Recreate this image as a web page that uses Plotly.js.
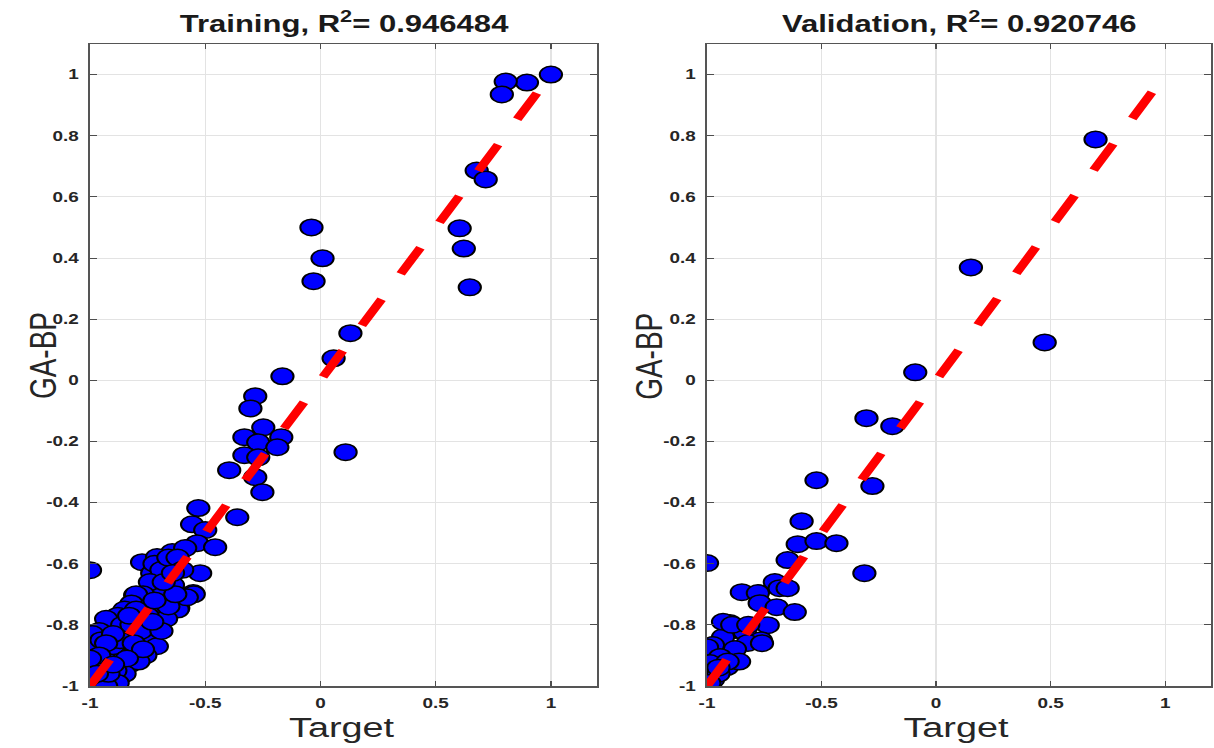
<!DOCTYPE html>
<html>
<head>
<meta charset="utf-8">
<script src="https://cdn.plot.ly/plotly-3.0.1.min.js"></script>
<style>
html,body{margin:0;padding:0;background:#fff;overflow:hidden;}
#wrap{width:1214px;height:748px;overflow:hidden;}
/* The reference figure is stretched horizontally (elliptical markers, wide glyphs) */
#chart{width:899px;height:748px;transform:scaleX(1.3504);transform-origin:0 0;}
</style>
</head>
<body>
<div id="wrap"><div id="chart"></div></div>
<script>
// ---- Data ----
const trainTarget = [
  1.00, 0.896, 0.804, 0.787, 0.678, 0.717, 0.604, 0.622, 0.648,
  -0.039, 0.009, -0.030, 0.130, 0.057, 0.109, -0.165,
  -0.283, -0.304, -0.248, -0.330, -0.270, -0.170, -0.187, -0.330, -0.270,
  -0.396, -0.283, -0.252, -0.530, -0.361, -0.557, -0.500, -0.535, -0.457,
  -0.643, -0.774, -0.709, -0.687, -0.587, -1.000, -0.522, -0.730,
  -0.643, -0.552, -0.617, -0.804, -0.848, -0.926,
  -0.72, -0.69, -0.66, -0.64, -0.62, -0.60, -0.55, -0.62, -0.58, -0.66,
  -0.70, -0.74, -0.77, -0.80, -0.82, -0.85, -0.78, -0.74, -0.70, -0.67,
  -0.72, -0.76, -0.80, -0.84, -0.88, -0.90, -0.93, -0.86, -0.82, -0.78,
  -0.74, -0.71, -0.76, -0.80, -0.84, -0.88, -0.92, -0.96, -0.98, -0.95,
  -0.91, -0.87, -0.83, -0.79, -0.85, -0.89, -0.93, -0.97, -0.99, -1.00,
  -0.98, -0.95, -0.91, -0.88, -1.00, -0.99, -0.97, -0.93, -1.00, -0.96,
  -0.94, -0.90, -0.86, -0.82, -0.78, -0.69, -0.66, -0.63, -0.68, -0.64,
  -0.75, -0.72, -0.80, -0.83, -0.87, -0.81, -0.77, -0.73, -0.84, -0.92,
  -0.98, -1.00, -0.99, -0.95, -0.90, -0.93, -0.96, -1.00, -0.97, -0.90
];
const trainOutput = [
  1.00, 0.974, 0.977, 0.935, 0.686, 0.657, 0.497, 0.431, 0.304,
  0.500, 0.399, 0.324, 0.154, 0.072, -0.235, 0.013,
  -0.052, -0.092, -0.154, -0.186, -0.203, -0.186, -0.219, -0.245, -0.252,
  -0.294, -0.317, -0.366, -0.418, -0.448, -0.471, -0.490, -0.533, -0.546,
  -0.562, -0.595, -0.578, -0.611, -0.549, -0.621, -0.631, -0.631,
  -0.670, -0.696, -0.745, -0.703, -0.752, -0.784,
  -0.60, -0.62, -0.58, -0.67, -0.58, -0.62, -0.70, -0.75, -0.71, -0.72,
  -0.69, -0.66, -0.70, -0.70, -0.73, -0.75, -0.76, -0.74, -0.76, -0.78,
  -0.81, -0.80, -0.78, -0.79, -0.77, -0.80, -0.78, -0.83, -0.84, -0.86,
  -0.84, -0.87, -0.90, -0.89, -0.88, -0.86, -0.84, -0.82, -0.85, -0.88,
  -0.90, -0.92, -0.93, -0.92, -0.96, -0.95, -0.94, -0.92, -0.90, -0.94,
  -0.97, -0.98, -0.98, -0.99, -1.00, -0.99, -1.00, -1.00, -0.97, -0.95,
  -0.91, -0.87, -0.80, -0.80, -0.82, -0.82, -0.74, -0.70, -0.66, -0.63,
  -0.77, -0.72, -0.75, -0.77, -0.85, -0.86, -0.88, -0.79, -0.91, -0.96,
  -0.88, -0.86, -0.83, -0.85, -0.83, -0.86, -0.90, -0.91, -0.96, -0.93
];
const valTarget = [
  0.696, 0.152, 0.474, -0.091, -0.304, -0.191, -0.278, -0.522,
  -0.587, -0.604, -0.522, -0.435, -0.648, -1.000, -0.313,
  -0.704, -0.683, -0.648, -0.848, -0.778, -0.770, -0.696, -0.617,
  -0.735, -0.900, -0.878, -0.835, -0.765, -0.822, -0.930, -0.974,
  -1.000, -0.878, -0.943, -0.987, -1.000, -0.974, -0.913,
  -0.93, -0.89, -0.82, -0.76, -0.86, -0.91, -0.95, -0.99, -0.95
];
const valOutput = [
  0.788, 0.369, 0.124, 0.026, -0.124, -0.150, -0.346, -0.327,
  -0.461, -0.536, -0.526, -0.533, -0.588, -0.598, -0.631,
  -0.660, -0.680, -0.680, -0.693, -0.696, -0.729, -0.742, -0.758,
  -0.801, -0.794, -0.817, -0.824, -0.850, -0.859, -0.840, -0.866,
  -0.873, -0.879, -0.905, -0.925, -0.958, -0.980, -0.938,
  -0.79, -0.80, -0.80, -0.86, -0.92, -0.92, -0.96, -0.99, -0.94
];
const fitLine = [-1, 1];
const xTicks = [-1, -0.5, 0, 0.5, 1];
const xTickText = ['-1', '-0.5', '0', '0.5', '1'];
const yTicks = [-1, -0.8, -0.6, -0.4, -0.2, 0, 0.2, 0.4, 0.6, 0.8, 1];
const yTickText = ['-1', '-0.8', '-0.6', '-0.4', '-0.2', '0', '0.2', '0.4', '0.6', '0.8', '1'];
const panelTitles = ['Training, R<sup>2</sup>= 0.946484', 'Validation, R<sup>2</sup>= 0.920746'];
const xTitle = 'Target';
const yTitle = 'GA-BP';

// ---- Layout helpers ----
const W = 1214, H = 748;          // final (stretched) picture size
const PLOT_W = 899;               // Plotly canvas width before the horizontal stretch
const px = v => v / W, py = v => 1 - v / H;

const markerStyle = {symbol: 'circle', size: 16.5, color: '#0000ff', line: {color: '#000000', width: 1.5}};
const lineStyle = {color: '#ff0000', width: 7, dash: '30px,29px'};

const traces = [
  {type: 'scatter', mode: 'markers', x: trainTarget, y: trainOutput, xaxis: 'x', yaxis: 'y', marker: markerStyle, showlegend: false, hoverinfo: 'x+y'},
  {type: 'scatter', mode: 'lines', x: fitLine, y: fitLine, xaxis: 'x', yaxis: 'y', line: lineStyle, showlegend: false},
  {type: 'scatter', mode: 'markers', x: valTarget, y: valOutput, xaxis: 'x2', yaxis: 'y2', marker: markerStyle, showlegend: false, hoverinfo: 'x+y'},
  {type: 'scatter', mode: 'lines', x: fitLine, y: fitLine, xaxis: 'x2', yaxis: 'y2', line: lineStyle, showlegend: false}
];

const FONT = 'Arial, Liberation Sans, sans-serif';
const tickFont = {family: FONT, size: 14, color: '#262626', weight: 'bold'};
const axTitleFont = {family: FONT, size: 28, color: '#262626'};
const titleFont = {family: FONT, size: 23, color: '#1a1a1a', weight: 'bold'};

function xAxis(domain, anchor) {
  return {
    domain: domain, anchor: anchor, range: [-1, 1.2],
    tickvals: xTicks, ticktext: xTickText, tickfont: tickFont, ticklabelstandoff: 4,
    ticks: 'inside', ticklen: 5, tickcolor: '#4d4d4d', tickwidth: 1,
    showline: true, linecolor: '#555555', linewidth: 1.5, mirror: 'ticks',
    showgrid: true, gridcolor: '#e3e3e3', gridwidth: 1, zeroline: false
  };
}
function yAxis(domain, anchor) {
  return {
    domain: domain, anchor: anchor, range: [-1, 1.1],
    tickvals: yTicks, ticktext: yTickText, tickfont: tickFont, ticklabelstandoff: 4,
    ticks: 'inside', ticklen: 5, tickcolor: '#4d4d4d', tickwidth: 1,
    showline: true, linecolor: '#555555', linewidth: 1.5, mirror: 'ticks',
    showgrid: true, gridcolor: '#e3e3e3', gridwidth: 1, zeroline: false
  };
}

function label(text, x, y, font, angle) {
  return {text: text, xref: 'paper', yref: 'paper', x: px(x), y: py(y), xanchor: 'center', yanchor: 'middle',
          showarrow: false, font: font, textangle: angle || 0};
}

const yDom = [py(686), py(44)];
const layout = {
  width: PLOT_W, height: H,
  margin: {l: 0, r: 0, t: 0, b: 0},
  paper_bgcolor: '#ffffff', plot_bgcolor: '#ffffff',
  xaxis: xAxis([px(90), px(597)], 'y'),
  yaxis: yAxis(yDom, 'x'),
  xaxis2: xAxis([px(707), px(1211)], 'y2'),
  yaxis2: yAxis(yDom, 'x2'),
  annotations: [
    label(panelTitles[0], 345, 22, titleFont),
    label(panelTitles[1], 960, 22, titleFont),
    label(xTitle, 341, 727, axTitleFont),
    label(xTitle, 956, 727, axTitleFont),
    label(yTitle, 42, 356, axTitleFont, -90),
    label(yTitle, 648, 356, axTitleFont, -90)
  ]
};

Plotly.newPlot('chart', traces, layout, {displayModeBar: false, staticPlot: true});
</script>
</body>
</html>
